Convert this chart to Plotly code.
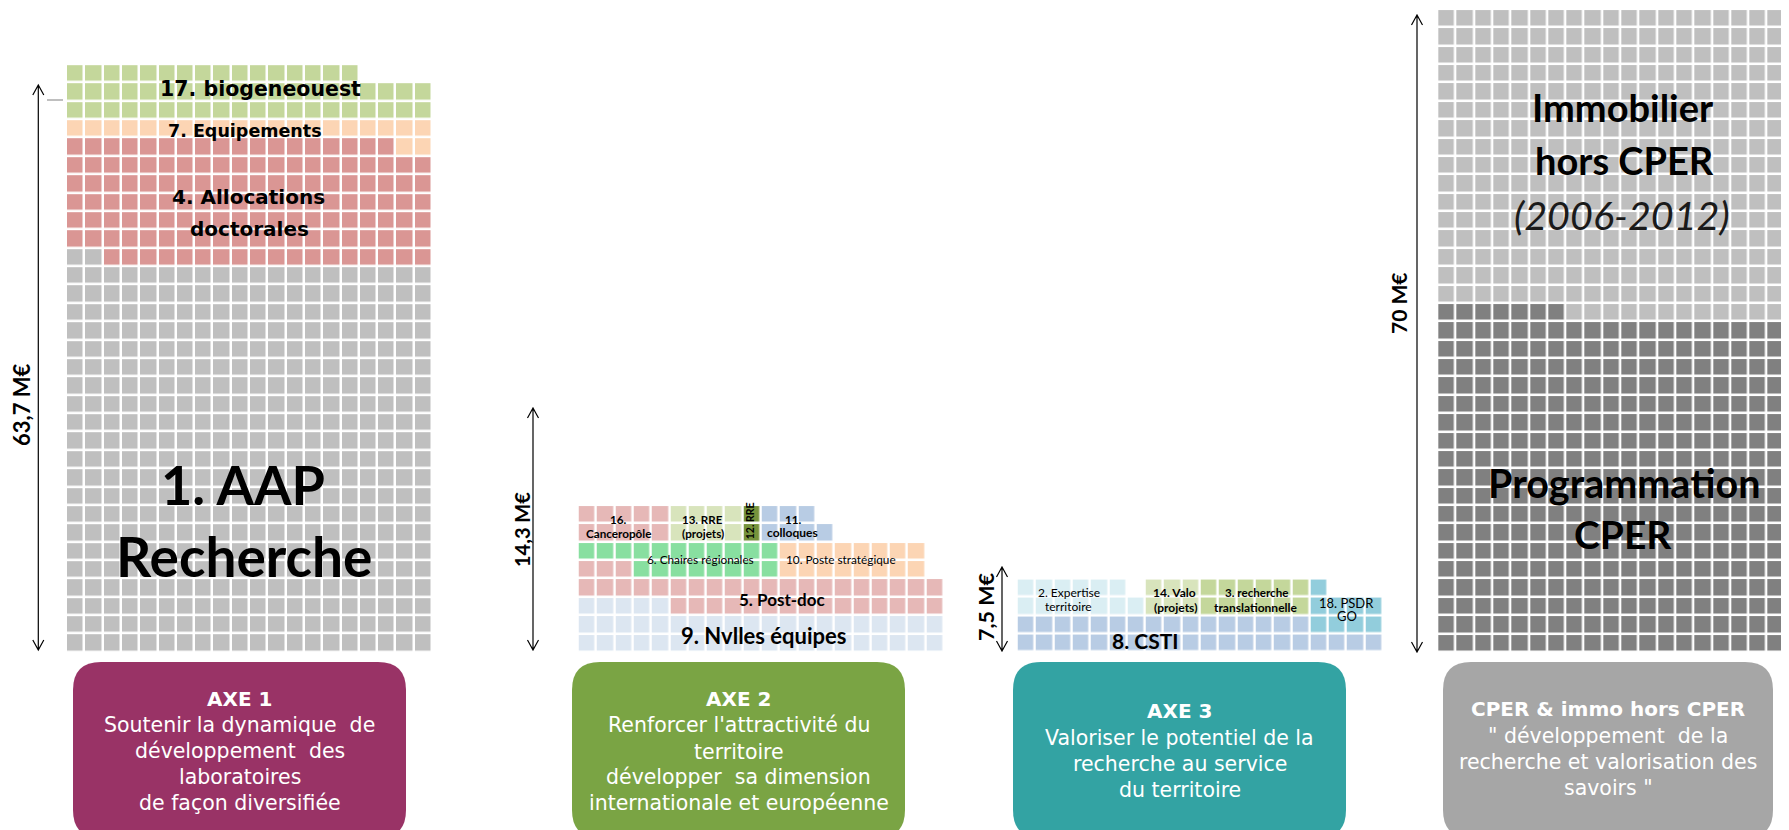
import plotly.graph_objects as go

W, H = 1789, 830
PAGE_OFF = 8   # default page body margin: the figure is drawn 8 px right/down

# ---------------- data (M€, one waffle cell = 0.1 M€) ----------------
UNIT = 0.1

axe1_labels = ["1. AAP Recherche", "4. Allocations doctorales", "7. Equipements", "17. biogeneouest"]
axe1_values = [42.2, 13.6, 2.2, 5.6]

axe2_labels = ["9. Nvlles équipes", "5. Post-doc", "6. Chaires régionales", "10. Poste stratégique",
               "16. Canceropôle", "13. RRE (projets)", "12. RRE", "11. colloques"]
axe2_values = [4.5, 3.8, 1.9, 1.6, 1.0, 0.8, 0.2, 0.7]

axe3_labels = ["8. CSTI", "18. PSDR GO", "2. Expertise territoire", "14. Valo (projets)",
               "3. recherche translationnelle"]
axe3_values = [3.6, 0.9, 1.3, 0.6, 1.2]

cper_labels = ["Programmation CPER", "Immobilier hors CPER (2006-2012)"]
cper_values = [36.7, 33.3]

totals = ["63,7 M€", "14,3 M€", "7,5 M€", "70 M€"]

box_titles = ["AXE 1", "AXE 2", "AXE 3", "CPER & immo hors CPER"]
box_lines = [
    ["Soutenir la dynamique  de", "développement  des", "laboratoires", "de façon diversifiée"],
    ["Renforcer l'attractivité du", "territoire", "développer  sa dimension", "internationale et européenne"],
    ["Valoriser le potentiel de la", "recherche au service", "du territoire"],
    ["\" développement  de la", "recherche et valorisation des", "savoirs \""],
]

# ---------------- layout / style ----------------
NCOLS = 20
PX, PY = 18.3, 18.37          # cell pitch (px)
BASE = 652                    # pixel row of the waffle bottoms
GAP = 2.5

axe1_cols = [(0, 19)] * 4
axe2_cols = [(0, 19), (0, 19), (0, 10), (11, 18), (0, 4), (5, 8), (9, 9), (10, 13)]
axe3_cols = [(0, 19), (16, 19), (0, 6), (7, 9), (10, 15)]
cper_cols = [(0, 19)] * 2

axe1_colors = ["#BFBFBF", "#DA9694", "#FCD5B4", "#C4D79B"]
axe2_colors = ["#DCE6F1", "#E6B8B7", "#88DFA0", "#FCD5B4", "#E6B8B7", "#D8E4BC", "#76933C", "#B8CCE4"]
axe3_colors = ["#B8CCE4", "#92CDDC", "#DAEEF3", "#D8E4BC", "#C4D79B"]
cper_colors = ["#808080", "#BFBFBF"]

panel_left = [66.0, 577.7, 1016.7, 1437.3]
box_x = [(73, 406), (572, 905), (1013, 1346), (1443, 1773)]
box_colors = ["#993366", "#7AA444", "#33A3A3", "#A6A6A6"]


def Y(py):
    """pixel row (from top of the picture) -> y data value (y axis up, 1 unit = 1 px)"""
    return H - py


def waffle_grid(values, spans):
    counts = [int(round(v / UNIT)) for v in values]
    occ = {}
    for k, (n, (c0, c1)) in enumerate(zip(counts, spans)):
        r, placed = 0, 0
        while placed < n:
            for c in range(c0, c1 + 1):
                if placed < n and (r, c) not in occ:
                    occ[(r, c)] = k
                    placed += 1
            r += 1
    nrows = max(r for r, _ in occ) + 1
    z = [[occ.get((r, c)) for c in range(NCOLS)] for r in range(nrows)]
    return z


def waffle_trace(values, labels, spans, colors, left):
    z = waffle_grid(values, spans)
    n = len(values)
    cs = []
    for i, col in enumerate(colors):
        cs.append([i / n, col])
        cs.append([(i + 1) / n, col])
    xs = [left + PX * (c + 0.5) for c in range(NCOLS)]
    ys = [Y(BASE) + PY * (r + 0.5) for r in range(len(z))]
    text = [[(labels[v] + " : %.1f M€" % values[v]) if v is not None else "" for v in row] for row in z]
    return go.Heatmap(z=z, x=xs, y=ys, text=text, colorscale=cs, zmin=-0.5, zmax=n - 0.5,
                      showscale=False, xgap=GAP, ygap=GAP, hoverongaps=False,
                      hovertemplate="%{text}<extra></extra>")


fig = go.Figure()
fig.add_trace(waffle_trace(axe1_values, axe1_labels, axe1_cols, axe1_colors, panel_left[0]))
fig.add_trace(waffle_trace(axe2_values, axe2_labels, axe2_cols, axe2_colors, panel_left[1]))
fig.add_trace(waffle_trace(axe3_values, axe3_labels, axe3_cols, axe3_colors, panel_left[2]))
fig.add_trace(waffle_trace(cper_values, cper_labels, cper_cols, cper_colors, panel_left[3]))

annotations = []


def ann(text, x, py, size, family="Lato", color="#000000", angle=0):
    annotations.append(dict(text=text, x=x, y=Y(py), xref="x", yref="y", showarrow=False,
                            xanchor="center", yanchor="middle", textangle=angle,
                            font=dict(family=family, size=size, color=color)))


DJ = "DejaVu Sans"
# --- Axe 1 labels
ann("<b>17. biogeneouest</b>", 260, 89, 20.5, DJ)
ann("<b>7. Equipements</b>", 244.5, 131, 17.5, DJ)
ann("<b>4. Allocations</b>", 248, 197, 20, DJ)
ann("<b>doctorales</b>", 249, 229, 20, DJ)
ann("<b>1. AAP</b>", 243, 484, 54)
ann("<b>Recherche</b>", 243.5, 556, 55)

# --- Axe 2 labels
ann("<b>16.</b>", 618, 519, 11.7)
ann("<b>Canceropôle</b>", 618.3, 533, 11.7)
ann("<b>13. RRE</b>", 702.5, 519, 11.5)
ann("<b>(projets)</b>", 702.5, 533, 11.7)
ann("<b>12. RRE</b>", 750.3, 521, 10.5, angle=-90)
ann("<b>11.</b>", 793, 519, 11.7)
ann("<b>colloques</b>", 792.7, 532, 12)
ann("6. Chaires régionales", 700.8, 559.5, 11.8)
ann("10. Poste stratégique", 840.5, 559.5, 11.8)
ann("<b>5. Post-doc</b>", 781.7, 599.5, 17)
ann("<b>9. Nvlles équipes</b>", 764, 635.5, 22)

# --- Axe 3 labels
ann("2. Expertise", 1069, 592, 12)
ann("territoire", 1068.7, 606, 12)
ann("<b>14. Valo</b>", 1174.7, 592, 12)
ann("<b>(projets)</b>", 1175.5, 607, 12)
ann("<b>3. recherche</b>", 1256.7, 592, 11.6)
ann("<b>translationnelle</b>", 1255.8, 607, 12)
ann("18. PSDR", 1346.7, 602.5, 13)
ann("GO", 1346.7, 616, 13)
ann("<b>8. CSTI</b>", 1145.8, 640, 21)

# --- CPER labels
ann("<b>Immobilier</b>", 1622.5, 107, 38)
ann("<b>hors CPER</b>", 1624, 160, 38)
ann("<i>(2006-2012)</i>", 1622, 214, 39.5, color="#1a1a1a")
ann("<b>Programmation</b>", 1624, 482.5, 39.5)
ann("<b>CPER</b>", 1623, 534, 39)

# --- totals (rotated)
tot_pos = [(21, 405, 22), (522, 530, 20), (986, 607, 21.5), (1398, 303, 21)]
for t, (x, py, s) in zip(totals, tot_pos):
    ann("<b>%s</b>" % t, x, py, s, angle=-90)

# --- boxes text
box_title_py = [699, 699, 710.5, 709]
box_line_py = [[725, 751, 777, 803], [725, 751.5, 777, 803], [737.5, 763.5, 789.5], [736, 762, 788]]
for i in range(4):
    cx = (box_x[i][0] + box_x[i][1]) / 2
    ann("<b>%s</b>" % box_titles[i], cx, box_title_py[i], 20, DJ, color="white")
    for line, py in zip(box_lines[i], box_line_py[i]):
        ann(line, cx, py, 20.5, DJ, color="white")

shapes = []


def rounded_rect(x0, x1, ptop, pbot, r, color):
    t, b = Y(ptop), Y(pbot)
    path = (f"M {x0 + r},{t} L {x1 - r},{t} Q {x1},{t} {x1},{t - r} L {x1},{b + r} "
            f"Q {x1},{b} {x1 - r},{b} L {x0 + r},{b} Q {x0},{b} {x0},{b + r} "
            f"L {x0},{t - r} Q {x0},{t} {x0 + r},{t} Z")
    shapes.append(dict(type="path", path=path, xref="x", yref="y", fillcolor=color,
                       line=dict(width=0), layer="below"))


for (x0, x1), col in zip(box_x, box_colors):
    rounded_rect(x0, x1, 662, 838, 28, col)


def double_arrow(x, ptop, pbot):
    t, b = Y(ptop), Y(pbot)
    hl, hw = 10, 5.5
    path = (f"M {x},{t} L {x},{b} "
            f"M {x - hw},{t - hl} L {x},{t} L {x + hw},{t - hl} "
            f"M {x - hw},{b + hl} L {x},{b} L {x + hw},{b + hl}")
    shapes.append(dict(type="path", path=path, xref="x", yref="y",
                       line=dict(color="#000000", width=1.2)))


double_arrow(38.3, 85, 650)
double_arrow(533, 408, 650)
double_arrow(1002, 567, 651)
double_arrow(1417, 15, 652)

# small grey tick mark near the first axis
shapes.append(dict(type="line", x0=47, x1=63, y0=Y(100), y1=Y(100), xref="x", yref="y",
                   line=dict(color="#BFBFBF", width=2)))

fig.update_layout(
    width=W - PAGE_OFF, height=H - PAGE_OFF,
    margin=dict(l=0, r=0, t=0, b=0),
    paper_bgcolor="white", plot_bgcolor="white",
    xaxis=dict(range=[PAGE_OFF, W], visible=False, fixedrange=True),
    yaxis=dict(range=[0, H - PAGE_OFF], visible=False, fixedrange=True),
    showlegend=False,
    annotations=annotations,
    shapes=shapes,
)

fig.write_html("out.html")
